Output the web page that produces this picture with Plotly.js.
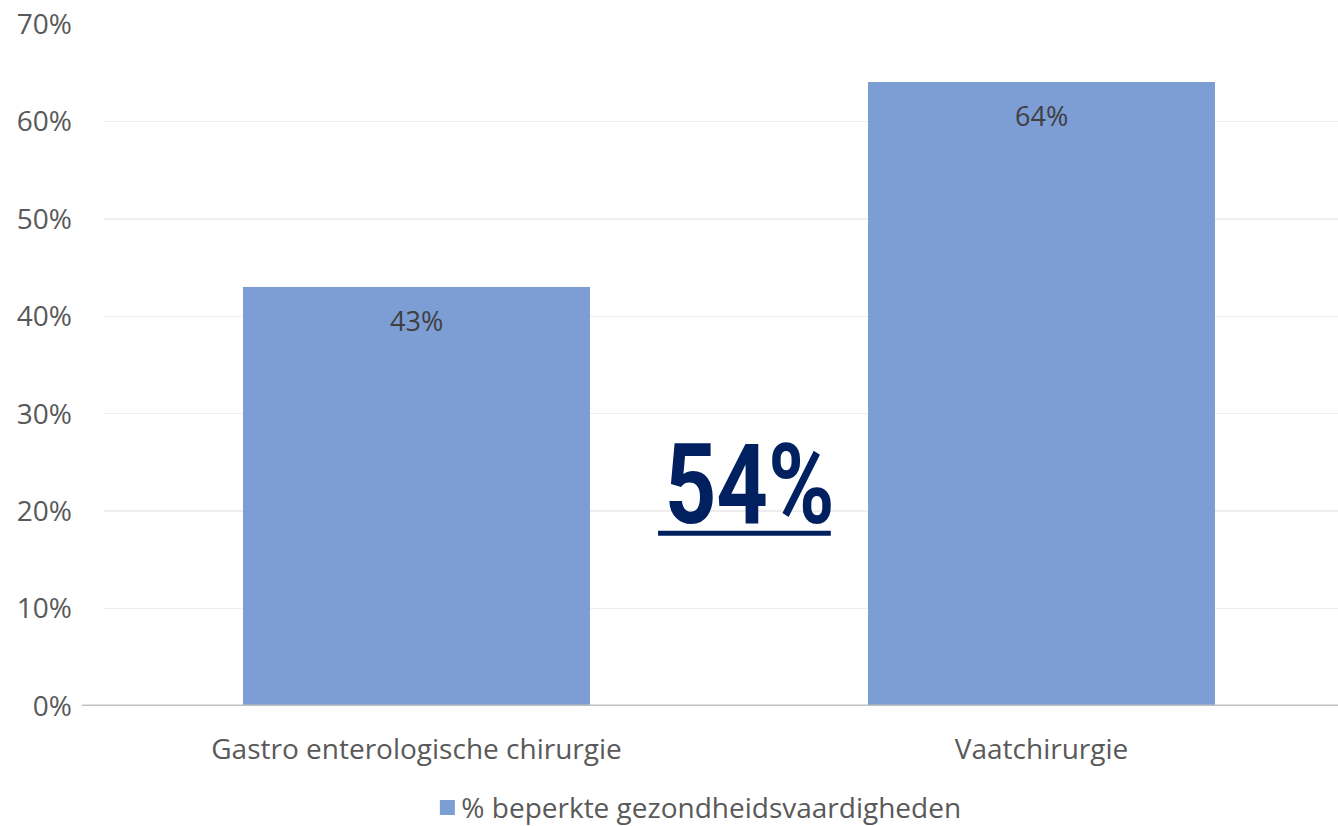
<!DOCTYPE html>
<html>
<head>
<meta charset="utf-8">
<script src="https://cdn.plot.ly/plotly-3.0.1.min.js"></script>
<style>html,body{margin:0;padding:0;background:#fff;overflow:hidden}#chart{width:1338px;height:826px}</style>
</head>
<body>
<div id="chart"></div>
<script>
var categories = ["Gastro enterologische chirurgie", "Vaatchirurgie"];
var values = [0.43, 0.64];
var valueLabels = ["43%", "64%"];
var seriesName = "% beperkte gezondheidsvaardigheden";
var highlightText = "54%";
var yTicks = [0, 0.1, 0.2, 0.3, 0.4, 0.5, 0.6, 0.7];
var yTickLabels = ["0%", "10%", "20%", "30%", "40%", "50%", "60%", "70%"];

var FONT = "'Open Sans', 'Noto Sans', sans-serif";
var GREY = "#595959";

var trace = {
  type: "bar",
  x: categories,
  y: values,
  name: seriesName,
  marker: {color: "#7D9DD5"},
  width: 0.555,
  hoverinfo: "none",
  showlegend: true
};

var annotations = categories.map(function (c, i) {
  return {
    x: c, y: values[i], xref: "x", yref: "y",
    text: valueLabels[i], showarrow: false,
    yanchor: "middle", yshift: -33,
    font: {family: FONT, size: 27, color: "#404040"}
  };
});
annotations.push({
  x: 0.5227, y: 0.227, xref: "paper", yref: "y",
  text: highlightText, showarrow: false,
  xanchor: "center", yanchor: "middle",
  font: {family: "Roboto, sans-serif", size: 112, weight: 700, color: "#002060"}
});

var layout = {
  width: 1338, height: 826,
  margin: {l: 104, r: 0, t: 23.5, b: 119.5, autoexpand: false},
  paper_bgcolor: "#ffffff", plot_bgcolor: "#ffffff",
  font: {family: FONT, color: GREY, size: 28},
  bargap: 0,
  xaxis: {
    type: "category",
    range: [-0.5, 1.4744],
    automargin: false,
    showgrid: false, zeroline: false, showline: false,
    ticks: "", ticklabelstandoff: 24,
    tickfont: {family: FONT, size: 28, color: GREY}
  },
  yaxis: {
    range: [0, 0.7],
    automargin: false,
    tickvals: yTicks, ticktext: yTickLabels,
    showgrid: true, gridcolor: "#EEEEEE", gridwidth: 1.5,
    zeroline: false, showline: false,
    ticks: "", ticklabelstandoff: 31,
    tickfont: {family: FONT, size: 28, color: GREY}
  },
  showlegend: true,
  legend: {
    orientation: "h", x: 0.478, xanchor: "center",
    yref: "container", y: 0.022, yanchor: "middle",
    font: {family: FONT, size: 28, color: GREY},
    bgcolor: "rgba(0,0,0,0)"
  },
  annotations: annotations,
  shapes: [
    {type: "line", xref: "paper", yref: "y", x0: -0.0178, x1: 1, y0: 0, y1: 0,
     line: {color: "#BFBFBF", width: 3}},
    {type: "line", xref: "paper", yref: "y", x0: 0.449, x1: 0.589, y0: 0.1773, y1: 0.1773,
     line: {color: "#002060", width: 5}}
  ]
};

Plotly.newPlot("chart", [trace], layout, {displayModeBar: false, staticPlot: true}).then(function (gd) {
  var anns = gd.querySelectorAll(".annotation");
  var big = anns[anns.length - 1];
  var txt = big.querySelector("text");
  if (txt) {
    var bb = txt.getBBox();
    var targetW = 170;
    var sx = targetW / bb.width;
    var cx = bb.x + bb.width / 2;
    txt.setAttribute("transform", "translate(" + cx + ",0) scale(" + sx + ",1) translate(" + (-cx) + ",0)");
  }
  var pts = gd.querySelectorAll(".legend .legendpoints path");
  pts.forEach(function (p) { p.setAttribute("d", "M13.5,7.5H-1.5V-7.5H13.5Z"); });
});
</script>
</body>
</html>
